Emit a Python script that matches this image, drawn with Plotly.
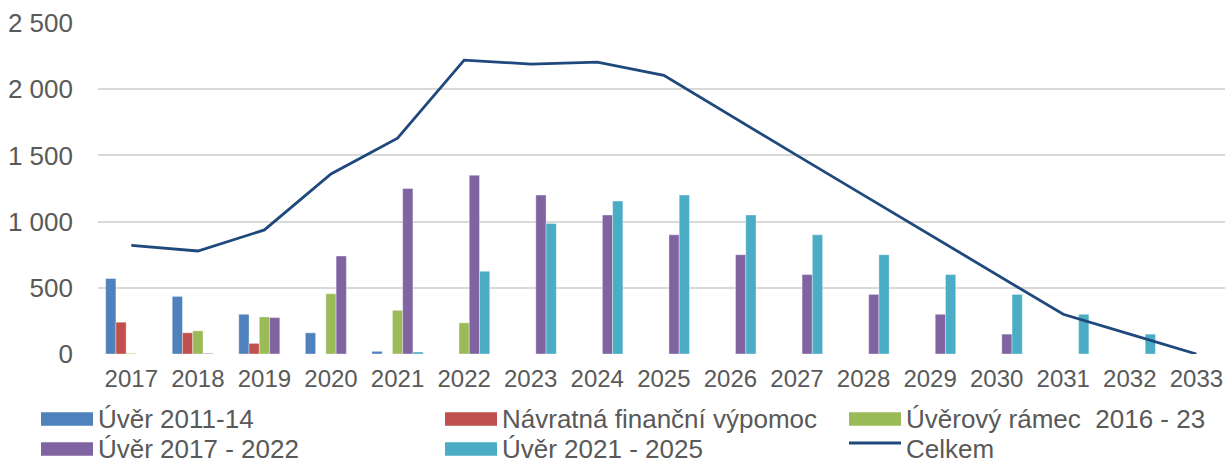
import plotly.graph_objects as go

years = [str(y) for y in range(2017, 2034)]
uver_2011_14 = [570, 435, 300, 160, 20, 0, 0, 0, 0, 0, 0, 0, 0, 0, 0, 0, 0]
navratna = [240, 160, 80, 0, 0, 0, 0, 0, 0, 0, 0, 0, 0, 0, 0, 0, 0]
uverovy_ramec = [5, 175, 280, 455, 330, 235, 0, 0, 0, 0, 0, 0, 0, 0, 0, 0, 0]
uver_2017_2022 = [0, 5, 275, 740, 1250, 1350, 1200, 1050, 900, 750, 600, 450, 300, 150, 0, 0, 0]
uver_2021_2025 = [0, 0, 0, 0, 15, 625, 985, 1155, 1200, 1050, 900, 750, 600, 450, 300, 150, 0]
celkem = [820, 778, 937, 1360, 1630, 2220, 2190, 2205, 2105, 1800, 1500, 1200, 900, 600, 300, 150, 0]

names = ["Úvěr 2011-14", "Návratná finanční výpomoc", "Úvěrový rámec  2016 - 23",
         "Úvěr 2017 - 2022", "Úvěr 2021 - 2025", "Celkem"]
colors = ["#4F81BD", "#C0504D", "#9BBB59", "#8064A2", "#4BACC6", "#1F497D"]
series = [uver_2011_14, navratna, uverovy_ramec, uver_2017_2022, uver_2021_2025]

W, H = 1225, 459
L, R, T, B = 98, 0, 23, 105
PW, PH = W - L - R, H - T - B
FONT = "Liberation Sans, Arial, sans-serif"
TXT = "#595959"

fig = go.Figure()
for name, col, vals in zip(names[:5], colors[:5], series):
    fig.add_trace(go.Bar(x=years, y=vals, name=name, marker_color=col,
                         marker_line=dict(width=0.6, color="rgba(255,255,255,0.6)"),
                         showlegend=False))
fig.add_trace(go.Scatter(x=years, y=celkem, name=names[5], mode="lines",
                         line=dict(color=colors[5], width=2.8), showlegend=False))

def px2x(px):
    return (px - L) / PW

def px2y(py):
    return (H - B - py) / PH

# manual legend (three columns, two rows)
cols_swatch = [41, 445, 849]
rows_y = [419, 449]
layout_items = [(0, 0), (0, 1), (0, 2), (1, 0), (1, 1), (1, 2)]
shapes = []
annotations = []
for i, (r, c) in enumerate(layout_items):
    x0 = cols_swatch[c]
    yc = rows_y[r]
    if i < 5:
        shapes.append(dict(type="rect", xref="paper", yref="paper",
                           x0=px2x(x0), x1=px2x(x0 + 52), y0=px2y(yc + 6.7), y1=px2y(yc - 6.7),
                           fillcolor=colors[i], line=dict(width=0), layer="above"))
    else:
        shapes.append(dict(type="line", xref="paper", yref="paper",
                           x0=px2x(x0), x1=px2x(x0 + 52), y0=px2y(yc - 6), y1=px2y(yc - 6),
                           line=dict(color=colors[i], width=2.8)))
    annotations.append(dict(xref="paper", yref="paper", x=px2x(x0 + 55), y=px2y(yc),
                            xanchor="left", yanchor="middle", showarrow=False,
                            text=names[i], font=dict(family=FONT, size=26, color=TXT)))

fig.update_layout(
    width=W, height=H,
    margin=dict(l=L, r=R, t=T, b=B, pad=0),
    paper_bgcolor="white", plot_bgcolor="white",
    barmode="group", bargap=0.23, bargroupgap=0,
    separators=", ",
    showlegend=False,
    shapes=shapes, annotations=annotations,
    font=dict(family=FONT, size=24, color=TXT),
)
fig.update_xaxes(type="category", range=[-0.5, 16.43], showgrid=False, zeroline=False,
                 showline=False, ticks="", ticklabelstandoff=8,
                 tickfont=dict(family=FONT, size=24, color=TXT))
fig.update_yaxes(range=[0, 2500], tickvals=[0, 500, 1000, 1500, 2000, 2500], tickformat=",",
                 showgrid=True, gridcolor="#D9D9D9", gridwidth=2, zeroline=False,
                 showline=False, ticks="", ticklabelstandoff=24,
                 tickfont=dict(family=FONT, size=26, color=TXT))

fig.write_html("out.html")
